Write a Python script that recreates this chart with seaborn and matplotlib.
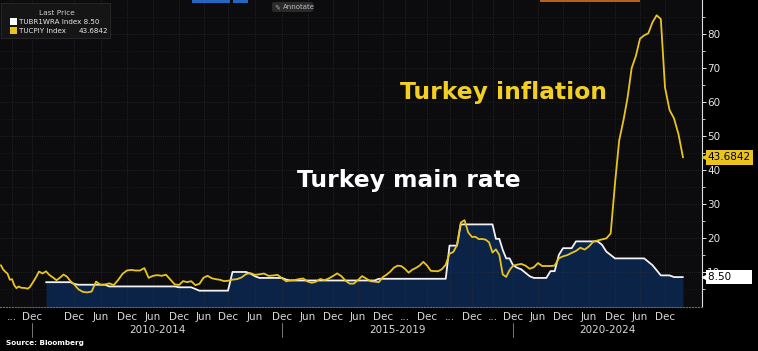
import numpy as np
import pandas as pd
import matplotlib.pyplot as plt
import matplotlib.patches as mpatches
import seaborn as sns

# Turkey CPI, % y/y, one value per month, Oct 2008 .. Apr 2023
inflation_start = "2008-10"
inflation = [
    11.99, 10.76, 10.06,
    9.50, 7.73, 7.89, 6.13, 5.24, 5.73, 5.39, 5.33, 5.27, 5.08, 5.53, 6.53,
    8.19, 10.13, 9.56, 10.19, 9.10, 8.37, 7.58, 8.33, 9.24, 8.62, 7.29, 6.40,
    4.90, 4.16, 3.99, 4.26, 7.17, 6.24, 6.31, 6.65, 6.15, 7.66, 9.48, 10.45,
    10.61, 10.43, 10.43, 11.14, 8.28, 8.87, 9.07, 8.88, 9.19, 7.80, 6.37, 6.16,
    7.31, 7.03, 7.29, 6.13, 6.51, 8.30, 8.88, 8.17, 7.88, 7.71, 7.32, 7.40,
    7.75, 7.89, 8.39, 9.38, 9.66, 9.16, 9.32, 9.54, 8.86, 8.96, 9.15, 8.17,
    7.24, 7.55, 7.61, 7.91, 8.09, 7.20, 6.81, 7.14, 7.95, 7.58, 8.10, 8.81,
    9.58, 8.78, 7.46, 6.57, 6.58, 7.64, 8.79, 8.05, 7.28, 7.16, 7.00, 8.53,
    9.22, 10.13, 11.29, 11.87, 11.72, 10.90, 9.79, 10.68, 11.20, 11.90, 12.98, 11.92,
    10.35, 10.26, 10.23, 10.85, 12.15, 15.39, 15.85, 17.90, 24.52, 25.24, 21.62, 20.30,
    20.35, 19.67, 19.71, 19.50, 18.71, 15.72, 16.65, 15.01, 9.26, 8.55, 10.56, 11.84,
    12.15, 12.37, 11.86, 10.94, 11.39, 12.62, 11.76, 11.77, 11.75, 11.89, 14.03, 14.60,
    14.97, 15.61, 16.19, 17.14, 16.59, 17.53, 18.95, 19.25, 19.58, 19.89, 21.31, 36.08,
    48.69, 54.44, 61.14, 69.97, 73.50, 78.62, 79.60, 80.21, 83.45, 85.51, 84.39, 64.27,
    57.68, 55.18, 50.51, 43.6842,
]

# one-week repo rate at month end, Apr 2010 .. Apr 2023
main_rate_start = "2010-04"
main_rate = (
    [7.0] * 8 + [6.5]
    + [6.25] * 7 + [5.75] * 5
    + [5.75] * 11 + [5.5]
    + [5.5] * 3 + [5.0] + [4.5] * 8
    + [10.0] * 4 + [9.5, 8.75] + [8.25] * 6
    + [7.75] + [7.5] * 11
    + [7.5] * 10 + [8.0] * 2
    + [8.0] * 12
    + [8.0] * 5 + [17.75] * 3 + [24.0] * 4
    + [24.0] * 6 + [19.75, 19.75, 16.5, 14.0, 14.0, 12.0]
    + [11.25, 10.75, 9.75, 8.75, 8.25, 8.25, 8.25, 8.25, 10.25, 10.25, 15.0, 17.0]
    + [17.0, 17.0] + [19.0] * 6 + [18.0, 16.0, 15.0, 14.0]
    + [14.0] * 7 + [13.0, 12.0, 10.5, 9.0, 9.0]
    + [9.0, 8.5, 8.5, 8.5]
)

# bottom axis labels (decimal year, text)
tick_pos = [2009.25, 2010, 2011, 2011.5, 2012, 2012.5, 2013, 2013.5, 2014, 2014.5,
            2015, 2015.5, 2016, 2016.5, 2017, 2017.5, 2018, 2018.5, 2019, 2019.5,
            2020, 2020.5, 2021, 2021.5, 2022, 2022.5, 2023]
tick_text = ["...", "Dec", "Dec", "Jun", "Dec", "Jun", "Dec", "Jun", "Dec", "Jun",
             "Dec", "Jun", "Dec", "Jun", "Dec", "...", "Dec", "...", "Dec", "...",
             "Dec", "Jun", "Dec", "Jun", "Dec", "Jun", "Dec"]
group_text = ["2010-2014", "2015-2019", "2020-2024"]
group_start = [2010, 2015, 2020]

# Bloomberg squeezes some years, so the time axis is piecewise linear
scale_years = [2000, 2008.8, 2010, 2011, 2012, 2013, 2014, 2015, 2016, 2017,
               2018, 2019, 2020, 2021, 2022, 2023, 2023.685, 2030]
scale_px = [-225, 0, 32, 74, 127, 179, 228, 282, 333, 383,
            427, 472, 513, 563, 615, 665, 702, 1042]

YELLOW = "#e9c41f"
NAVY = "#0a2346"
W, H = 758, 351


def month_pos(start, n):
    months = pd.period_range(start, periods=n, freq="M")
    return months.year + months.month / 12.0


def fwd(t):
    return np.interp(t, scale_years, scale_px)


def inv(p):
    return np.interp(p, scale_px, scale_years)


def fx(x):
    return x / W


def fy(y):
    return 1 - y / H


sns.set_theme(style="dark", rc={
    "figure.facecolor": "black",
    "axes.facecolor": "#0c0c0f",
    "axes.edgecolor": "#dddddd",
    "text.color": "white",
})
plt.rcParams["font.family"] = ["DejaVu Sans"]

cpi = pd.DataFrame({"t": month_pos(inflation_start, len(inflation)), "value": inflation})
rate = pd.DataFrame({"t": month_pos(main_rate_start, len(main_rate)), "value": main_rate})

fig = plt.figure(figsize=(W / 100, H / 100), dpi=100)
ax = fig.add_axes([0, 1 - 307 / H, 702 / W, 307 / H])

ax.fill_between(rate["t"], rate["value"], -1, color=NAVY, lw=0, zorder=1)
sns.lineplot(data=rate, x="t", y="value", ax=ax, color="#f2f2f2", lw=1.3, zorder=3)
sns.lineplot(data=cpi, x="t", y="value", ax=ax, color=YELLOW, lw=1.3, zorder=4)

ax.set_xscale("function", functions=(fwd, inv))
ax.set_xlim(2008.8, 2023.685)
ax.set_ylim(-0.3, 90)
ax.set_xlabel("")
ax.set_ylabel("")

ax.set_xticks(tick_pos)
ax.set_xticklabels(tick_text)
ax.yaxis.tick_right()
ax.set_yticks(np.arange(10, 81, 10))
ax.set_yticks(np.arange(5, 90, 5), minor=True)

ax.tick_params(axis="x", which="both", length=0, pad=3.5, labelsize=7.5, colors="#d8d8d8")
ax.tick_params(axis="y", which="major", right=True, length=3, width=0.7, pad=0.8,
               labelsize=7.5, colors="#e6e6e6")
ax.tick_params(axis="y", which="minor", right=True, length=2, width=0.6, colors="#e6e6e6")

ax.set_axisbelow("line")
ax.grid(which="major", color="#34363c", ls=(0, (1, 2)), lw=0.5)
ax.grid(which="minor", axis="y", color="#202126", ls=(0, (1, 2)), lw=0.5)

for side in ["top", "left"]:
    ax.spines[side].set_visible(False)
ax.spines["right"].set_color("#dddddd")
ax.spines["right"].set_linewidth(0.8)
ax.spines["bottom"].set_color("#6a6a6a")
ax.spines["bottom"].set_linestyle(":")
ax.spines["bottom"].set_linewidth(0.8)

# period groups below the month labels
xt = ax.get_xaxis_transform()
edges = [fwd(g) for g in group_start] + [702]
for i, label in enumerate(group_text):
    mid = inv((edges[i] + edges[i + 1]) / 2)
    ax.text(mid, -0.075, label, transform=xt, ha="center", va="center",
            fontsize=7.5, color="#d8d8d8")
    ax.plot([group_start[i]] * 2, [-0.052, -0.098], transform=xt, color="#8a8a8a",
            lw=0.6, clip_on=False)

# series annotations
ax.text(0.570, 0.6775, "Turkey inflation", transform=ax.transAxes, fontsize=16.8,
        fontweight="bold", color="#f2cf22", va="baseline", ha="left")
ax.text(0.423, 0.391, "Turkey main rate", transform=ax.transAxes, fontsize=16.8,
        fontweight="bold", color="white", va="baseline", ha="left")

# last-value tags on the right axis
yt = ax.get_yaxis_transform()
last_cpi = inflation[-1]
last_rate = main_rate[-1]
ax.plot([1.004], [last_cpi], marker="<", ms=5, color=YELLOW, transform=yt, clip_on=False, zorder=6)
ax.text(1.008, last_cpi, f"{last_cpi:.4f}", transform=yt, ha="left", va="center",
        fontsize=7.5, color="black", clip_on=False, zorder=7,
        bbox=dict(boxstyle="square,pad=0.2", fc=YELLOW, ec="none"))
ax.plot([1.004], [last_rate], marker="<", ms=5, color="white", transform=yt, clip_on=False, zorder=6)
ax.text(1.008, last_rate, f"{last_rate:.2f}" + "      ", transform=yt, ha="left", va="center",
        fontsize=7.5, color="black", clip_on=False, zorder=7,
        bbox=dict(boxstyle="square,pad=0.2", fc="white", ec="none"))

# legend panel in the top left
fig.add_artist(mpatches.Rectangle((fx(1), fy(38)), fx(109), 35 / H, transform=fig.transFigure,
                                  fc="#151515", ec="#2a2a2a", lw=0.6))
fig.text(fx(57), fy(13), "Last Price", ha="center", va="center", fontsize=5.3, color="#cfcfcf")
fig.add_artist(mpatches.Rectangle((fx(10), fy(25)), fx(7), 7 / H, transform=fig.transFigure,
                                  fc="white", ec="none"))
fig.add_artist(mpatches.Rectangle((fx(10), fy(34)), fx(7), 7 / H, transform=fig.transFigure,
                                  fc=YELLOW, ec="none"))
fig.text(fx(19), fy(21.5), f"TUBR1WRA Index {last_rate:.2f}", ha="left", va="center",
         fontsize=5.1, color="#e8e8e8")
fig.text(fx(19), fy(31), "TUCPIY Index", ha="left", va="center", fontsize=5.1, color="#e8e8e8")
fig.text(fx(79), fy(31), f"{last_cpi:.4f}", ha="left", va="center", fontsize=5.1, color="#e8e8e8")

# toolbar remnants along the top edge
fig.add_artist(mpatches.FancyBboxPatch((fx(272), fy(12)), fx(41), 10 / H, transform=fig.transFigure,
                                       boxstyle="round,pad=0,rounding_size=0.004",
                                       fc="#2a2a2a", ec="none"))
fig.text(fx(274), fy(7), "\u270e", ha="left", va="center", fontsize=5, color="#aaaaaa")
fig.text(fx(283), fy(7), "Annotate", ha="left", va="center", fontsize=5, color="#bbbbbb")
fig.add_artist(mpatches.Rectangle((fx(192), fy(3)), fx(38), 3 / H, transform=fig.transFigure,
                                  fc="#2466c2", ec="none"))
fig.add_artist(mpatches.Rectangle((fx(233), fy(3)), fx(15), 3 / H, transform=fig.transFigure,
                                  fc="#2466c2", ec="none"))
fig.add_artist(mpatches.Rectangle((fx(540), fy(2)), fx(100), 2 / H, transform=fig.transFigure,
                                  fc="#b8601c", ec="none"))

fig.text(fx(6), fy(343), "Source: Bloomberg", ha="left", va="center", fontsize=5.2,
         fontweight="bold", color="white")

fig.savefig("out.png", dpi=100, facecolor="black")
